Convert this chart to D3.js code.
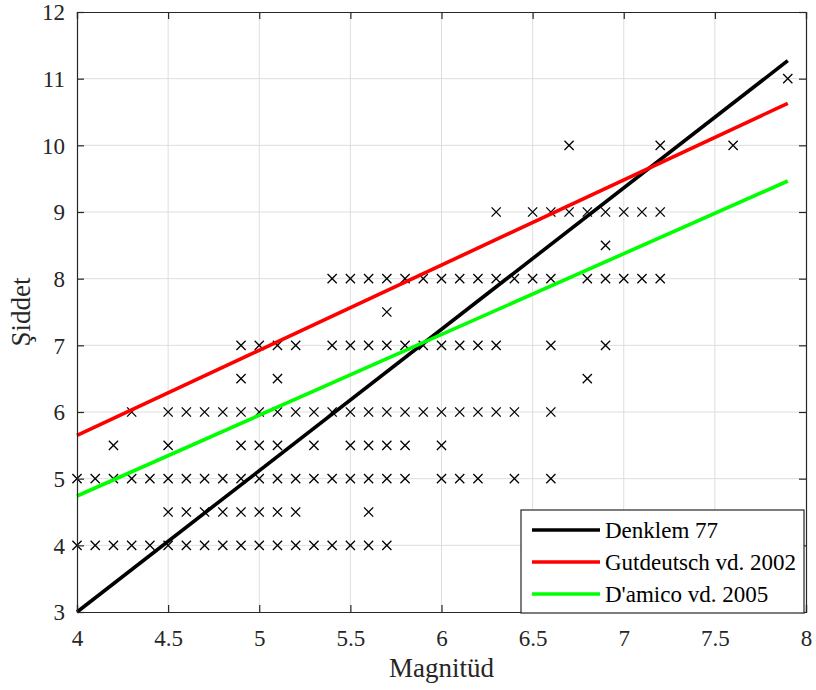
<!DOCTYPE html>
<html>
<head>
<meta charset="utf-8">
<script src="https://cdn.jsdelivr.net/npm/d3@7"></script>
<style>
  body { margin: 0; background: #fff; }
  svg { display: block; }
</style>
</head>
<body>
<svg id="chart" width="816" height="690" font-family="Liberation Serif"></svg>
<script>
// Observed intensity (Şiddet) values, grouped by row: each entry lists the magnitudes at that intensity
const intensityRows = [
  { I: 4,   M: [4.0,4.1,4.2,4.3,4.4,4.5,4.6,4.7,4.8,4.9,5.0,5.1,5.2,5.3,5.4,5.5,5.6,5.7] },
  { I: 4.5, M: [4.5,4.6,4.7,4.8,4.9,5.0,5.1,5.2,5.6] },
  { I: 5,   M: [4.0,4.1,4.2,4.3,4.4,4.5,4.6,4.7,4.8,4.9,5.0,5.1,5.2,5.3,5.4,5.5,5.6,5.7,5.8,6.0,6.1,6.2,6.4,6.6] },
  { I: 5.5, M: [4.2,4.5,4.9,5.0,5.1,5.3,5.5,5.6,5.7,5.8,6.0] },
  { I: 6,   M: [4.3,4.5,4.6,4.7,4.8,4.9,5.0,5.1,5.2,5.3,5.4,5.5,5.6,5.7,5.8,5.9,6.0,6.1,6.2,6.3,6.4,6.6] },
  { I: 6.5, M: [4.9,5.1,6.8] },
  { I: 7,   M: [4.9,5.0,5.1,5.2,5.4,5.5,5.6,5.7,5.8,5.9,6.0,6.1,6.2,6.3,6.6,6.9] },
  { I: 7.5, M: [5.7] },
  { I: 8,   M: [5.4,5.5,5.6,5.7,5.8,5.9,6.0,6.1,6.2,6.3,6.4,6.5,6.6,6.8,6.9,7.0,7.1,7.2] },
  { I: 8.5, M: [6.9] },
  { I: 9,   M: [6.3,6.5,6.6,6.7,6.8,6.9,7.0,7.1,7.2] },
  { I: 10,  M: [6.7,7.2,7.6] },
  { I: 11,  M: [7.9] }
];

// Relation lines: intensity at the start and end magnitudes
const relationNames = ["Denklem 77", "Gutdeutsch vd. 2002", "D'amico vd. 2005"];
const relationColors = ["#000000", "#ff0000", "#00ff00"];
const relationM = [4.0, 7.9];
const relationI = [
  [3.0, 11.27],
  [5.65, 10.63],
  [4.74, 9.465]
];

const xTicks = [4, 4.5, 5, 5.5, 6, 6.5, 7, 7.5, 8];
const yTicks = [3, 4, 5, 6, 7, 8, 9, 10, 11, 12];

const FONT = "Liberation Serif";
const svg = d3.select("#chart");
const margin = { left: 77, top: 12, right: 816 - 806, bottom: 690 - 612 };
const W = 816 - margin.left - margin.right;
const H = 690 - margin.top - margin.bottom;

const x = d3.scaleLinear().domain([4, 8]).range([0, W]);
const y = d3.scaleLinear().domain([3, 12]).range([H, 0]);

const g = svg.append("g").attr("transform", `translate(${margin.left},${margin.top})`);

// grid
g.append("g").selectAll("line").data(xTicks.slice(1, -1)).join("line")
  .attr("x1", d => x(d)).attr("x2", d => x(d)).attr("y1", 0).attr("y2", H)
  .attr("stroke", "#dedede").attr("stroke-width", 1);
g.append("g").selectAll("line").data(yTicks.slice(1, -1)).join("line")
  .attr("y1", d => y(d)).attr("y2", d => y(d)).attr("x1", 0).attr("x2", W)
  .attr("stroke", "#dedede").attr("stroke-width", 1);

// markers
const pts = intensityRows.flatMap(r => r.M.map(m => ({ m, i: r.I })));
const s = 4.6;
const mk = g.append("g").attr("stroke", "#000").attr("stroke-width", 1.3);
mk.selectAll("path").data(pts).join("path")
  .attr("d", d => {
    const px = x(d.m), py = y(d.i);
    return `M${px - s},${py - s}L${px + s},${py + s}M${px - s},${py + s}L${px + s},${py - s}`;
  });

// relation lines
const line = d3.line().x(d => x(d[0])).y(d => y(d[1]));
relationI.forEach((iv, k) => {
  g.append("path")
    .datum(relationM.map((m, j) => [m, iv[j]]))
    .attr("d", line)
    .attr("fill", "none")
    .attr("stroke", relationColors[k])
    .attr("stroke-width", 3.6);
});

// axes (ticks inward, box all round)
const axisColor = "#262626";
const tickLen = 7;
const xAxis = d3.axisBottom(x).tickValues(xTicks).tickSize(-tickLen).tickPadding(0)
  .tickFormat(d3.format("~g"));
const yAxis = d3.axisLeft(y).tickValues(yTicks).tickSize(-tickLen).tickPadding(12)
  .tickFormat(d3.format("~g"));

const gx = g.append("g").attr("transform", `translate(0,${H})`).call(xAxis);
const gy = g.append("g").call(yAxis);
const gxt = g.append("g").call(d3.axisTop(x).tickValues(xTicks).tickSize(-tickLen).tickFormat(""));
const gyr = g.append("g").attr("transform", `translate(${W},0)`)
  .call(d3.axisRight(y).tickValues(yTicks).tickSize(-tickLen).tickFormat(""));

[gx, gy, gxt, gyr].forEach(a => {
  a.attr("font-family", FONT).attr("font-size", 23);
  a.select(".domain").attr("stroke", axisColor).attr("stroke-width", 1.2);
  a.selectAll(".tick line").attr("stroke", axisColor).attr("stroke-width", 1.2);
  a.selectAll(".tick text").attr("fill", axisColor);
});
gx.selectAll(".tick text").attr("y", 34).attr("dy", 0);
gy.selectAll(".tick text").attr("dy", "0.34em");

// axis labels
svg.append("text")
  .attr("x", margin.left + W / 2).attr("y", 677)
  .attr("text-anchor", "middle").attr("fill", axisColor)
  .attr("font-family", FONT).attr("font-size", 27).text("Magnitüd");
svg.append("text")
  .attr("transform", `translate(30,${margin.top + H / 2}) rotate(-90)`)
  .attr("text-anchor", "middle").attr("fill", axisColor)
  .attr("font-family", FONT).attr("font-size", 27).text("Şiddet");

// legend
const lg = svg.append("g");
const lx = 521, ly = 510, lw = 283, lh = 103;
lg.append("rect").attr("x", lx).attr("y", ly).attr("width", lw).attr("height", lh)
  .attr("fill", "#fff").attr("stroke", axisColor).attr("stroke-width", 1.2);
relationNames.forEach((name, k) => {
  const yy = ly + 20 + k * 32;
  lg.append("line").attr("x1", lx + 11).attr("x2", lx + 79).attr("y1", yy).attr("y2", yy)
    .attr("stroke", relationColors[k]).attr("stroke-width", 3.6);
  lg.append("text").attr("x", lx + 84).attr("y", yy).attr("dy", "0.34em")
    .attr("fill", "#000").attr("font-family", FONT).attr("font-size", 23).text(name);
});
</script>
</body>
</html>
